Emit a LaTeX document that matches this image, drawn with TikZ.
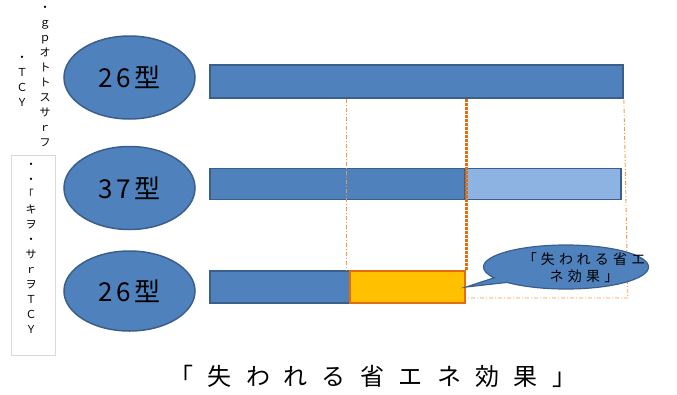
\documentclass[tikz,border=0pt]{standalone}
\usepackage{fontspec}
\setmainfont{Noto Sans CJK JP}
\newfontfamily\ellfont[LetterSpace=12]{Noto Sans CJK JP}
\newfontfamily\titlefont[LetterSpace=60]{Noto Sans CJK JP}
\newfontfamily\callfont[LetterSpace=30]{Noto Sans CJK JP}
\usetikzlibrary{shapes.geometric,shapes.callouts}
\definecolor{bluefill}{HTML}{4F81BD}
\definecolor{blueline}{HTML}{3A5F8B}
\definecolor{lightblue}{HTML}{8DB3E2}
\definecolor{orangeline}{HTML}{E46C0A}
\definecolor{dashorange}{HTML}{F79646}
\definecolor{yellowfill}{HTML}{FFC000}
\definecolor{greybox}{HTML}{D9D9D9}
\tikzset{
  typeell/.style={ellipse, draw=blueline, line width=1.5pt, fill=bluefill,
    minimum width=131pt, minimum height=83pt, inner sep=0pt,
    font=\ellfont\fontsize{26}{28}\selectfont, text=black},
  barbox/.style={rectangle, draw=blueline, line width=1.8pt, fill=bluefill,
    minimum height=31pt, inner sep=0pt},
  lostbox/.style={rectangle, draw=orangeline, line width=2.2pt, fill=yellowfill,
    minimum height=31pt, inner sep=0pt},
  thindash/.style={draw=dashorange, line width=0.9pt, dash pattern=on 4pt off 2pt on 1pt off 2pt},
  thickdot/.style={draw=orangeline, line width=3pt, dash pattern=on 3pt off 1pt},
  vtext/.style={inner sep=0pt, align=center, font=\fontsize{11}{15}\selectfont, text=black},
}
\begin{document}
\begin{tikzpicture}[x=1pt,y=-1pt]
\useasboundingbox (0,0) rectangle (677,394);
% left garbled vertical texts
\node[vtext, anchor=north] (colA) at (45,6) {・\\ｇ\\ｐ\\オ\\ト\\ト\\ス\\サ\\ｒ\\フ};
\node[vtext, anchor=north] (colB) at (22,56) {・\\Ｔ\\Ｃ\\Ｙ};
\node[draw=greybox, line width=0.8pt, minimum width=44pt, minimum height=200pt, anchor=north west, inner sep=0pt] (boxB) at (11,155) {};
\node[vtext, anchor=north] (colC) at (31,163) {・\\・\\｢\\キ\\ヲ\\・\\サ\\ｒ\\ヲ\\Ｔ\\Ｃ\\Ｙ};
% ellipses
\node[typeell] (e1) at (129.5,77.5) {26型};
\node[typeell] (e2) at (129.5,188) {37型};
\node[typeell, minimum height=80pt] (e3) at (129.5,291) {26型};
% bars
\node[barbox, minimum width=413pt, minimum height=33pt] (bar1) at (416.5,81.5) {};
\node[barbox, minimum width=255pt] (bar2a) at (337.5,184) {};
\node[barbox, fill=lightblue, minimum width=156pt] (bar2b) at (543,184) {};
\node[barbox, minimum width=140pt, minimum height=32pt] (bar3a) at (280,287) {};
\node[lostbox, minimum width=115pt, minimum height=32pt] (bar3b) at (407.5,287) {};
% guide lines
\coordinate (r1) at (bar1.south east);
\coordinate (r3) at ([yshift=-11pt]bar3b.east);
\coordinate (r2) at ([xshift=4pt]r3 -| bar1.south east);
\draw[thindash] ([xshift=-4pt]bar3a.north east |- bar1.south) -- ([xshift=-4pt]bar3a.north east);
\draw[thickdot] (bar3b.north east |- bar1.south) -- (bar3b.north east);
\draw[thindash] ([yshift=-1pt]r1) -- (r2) -- (r3);
% callout
\node[ellipse callout, draw=blueline, line width=1.2pt, fill=bluefill,
  minimum width=165pt, minimum height=44pt, inner sep=0pt,
  callout absolute pointer={(bar3b.east)}] (call) at (566,267) {};
\node[inner sep=0pt, align=center, font=\callfont\fontsize{14}{17}\selectfont, text=black] (calltext) at (584,268) {「失われる省エ\\ネ効果」};
% title
\node[inner sep=0pt, font=\titlefont\fontsize{24}{28}\selectfont, text=black] (title) at (373,376) {「失われる省エネ効果」};
\end{tikzpicture}
\end{document}
